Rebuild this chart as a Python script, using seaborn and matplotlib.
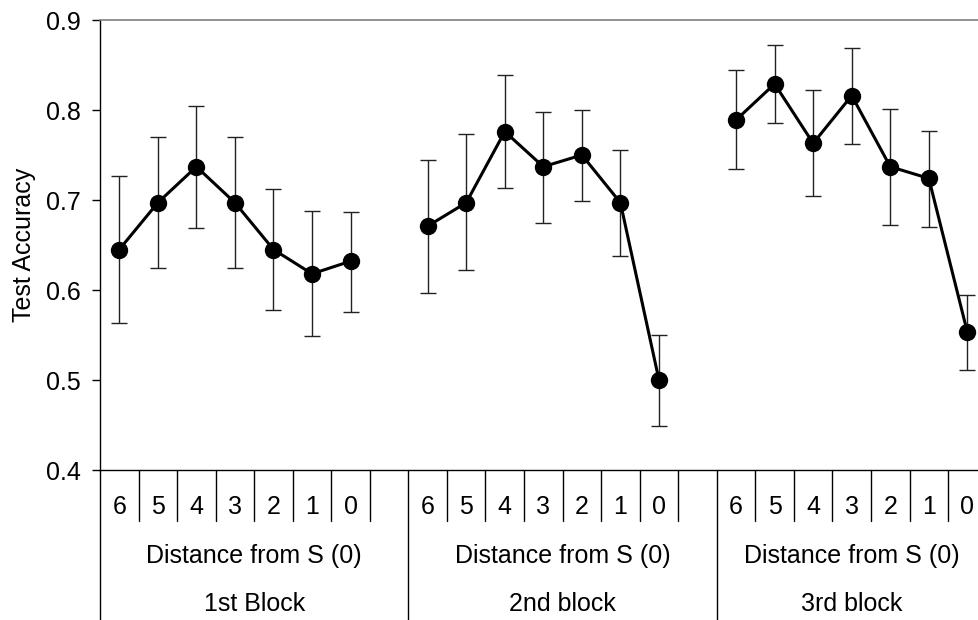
import numpy as np
import pandas as pd
import matplotlib
matplotlib.use('Agg')
import matplotlib.pyplot as plt
import seaborn as sns

# Data
blocks = ['1st Block', '2nd block', '3rd block']
distances = ['6', '5', '4', '3', '2', '1', '0']
group_label = 'Distance from S (0)'

acc_b1 = [0.645, 0.697, 0.737, 0.697, 0.645, 0.618, 0.632]
upper_b1 = [0.727, 0.770, 0.804, 0.770, 0.712, 0.688, 0.687]
lower_b1 = [0.563, 0.624, 0.669, 0.624, 0.578, 0.549, 0.576]

acc_b2 = [0.671, 0.697, 0.776, 0.737, 0.750, 0.697, 0.500]
upper_b2 = [0.745, 0.773, 0.839, 0.798, 0.800, 0.756, 0.550]
lower_b2 = [0.597, 0.622, 0.713, 0.675, 0.699, 0.638, 0.449]

acc_b3 = [0.789, 0.829, 0.763, 0.816, 0.737, 0.724, 0.553]
upper_b3 = [0.844, 0.872, 0.822, 0.869, 0.801, 0.777, 0.594]
lower_b3 = [0.734, 0.786, 0.704, 0.762, 0.672, 0.670, 0.511]

acc = [acc_b1, acc_b2, acc_b3]
upper = [upper_b1, upper_b2, upper_b3]
lower = [lower_b1, lower_b2, lower_b3]

# one blank category between blocks, like the excel axis
slot = len(distances) + 1
n_cat = len(blocks) * slot - 1

rows = []
for b, name in enumerate(blocks):
    for i, d in enumerate(distances):
        rows.append({'block': name, 'dist': d, 'pos': b * slot + i,
                     'acc': acc[b][i], 'lo': lower[b][i], 'hi': upper[b][i]})
df = pd.DataFrame(rows)

sns.set_style('white')
plt.rcParams['font.family'] = ['Liberation Sans', 'DejaVu Sans']
plt.rcParams['text.color'] = 'black'
plt.rcParams['axes.labelcolor'] = 'black'
plt.rcParams['ytick.color'] = 'black'
fs = 18

fig = plt.figure(figsize=(9.79, 6.2), dpi=100)
ax = fig.add_axes([100 / 979, 150 / 620, 886.65 / 979, 450 / 620])

ax.errorbar(df['pos'], df['acc'], yerr=[df['acc'] - df['lo'], df['hi'] - df['acc']],
            fmt='none', ecolor='#222222', elinewidth=1.0, capsize=5.5, capthick=1.0, zorder=2)
sns.lineplot(data=df, x='pos', y='acc', units='block', estimator=None, color='black',
             marker='o', markersize=12.5, markeredgewidth=0, linewidth=2.2, ax=ax, zorder=3)

ax.set_xlim(-0.5, n_cat - 0.5)
ax.set_ylim(0.4, 0.9)
ax.set_yticks(np.arange(0.4, 0.91, 0.1))
ax.set_yticklabels(['%.1f' % v for v in np.arange(0.4, 0.91, 0.1)])
ax.tick_params(axis='y', direction='out', length=6, width=1, labelsize=fs, pad=8,
               left=True, color='black', labelcolor='black')
ax.set_xticks([])
ax.set_xlabel('')
ax.set_ylabel('Test Accuracy', fontsize=fs, color='black')
ax.yaxis.set_label_coords(-64 / 886.65, 0.5)

for s in ['left', 'bottom']:
    ax.spines[s].set_color('black')
    ax.spines[s].set_linewidth(1.0)
ax.spines['top'].set_color('#808080')
ax.spines['top'].set_linewidth(1.2)
ax.spines['right'].set_visible(False)

# multi-level category axis below the plot
tr = ax.get_xaxis_transform()
short = -51 / 450
long_ = -150 / 450
for k in range(1, n_cat):
    if k % slot == 0:
        continue
    ax.plot([k - 0.5, k - 0.5], [0, short], color='black', lw=1.0, transform=tr, clip_on=False)
for b in range(len(blocks)):
    ax.plot([b * slot - 0.5] * 2, [0, long_], color='black', lw=1.0, transform=tr, clip_on=False)

for _, r in df.iterrows():
    ax.text(r['pos'], -36.7 / 450, r['dist'], transform=tr, ha='center', va='center',
            fontsize=fs, color='black')

for b, name in enumerate(blocks):
    start = b * slot - 0.5
    end = min(start + slot, n_cat - 0.5)
    mid = (start + end) / 2
    ax.text(mid, -86 / 450, group_label, transform=tr, ha='center', va='center',
            fontsize=fs, color='black')
    ax.text(mid, -134 / 450, name, transform=tr, ha='center', va='center',
            fontsize=fs, color='black')

fig.savefig('out.png', dpi=100)
